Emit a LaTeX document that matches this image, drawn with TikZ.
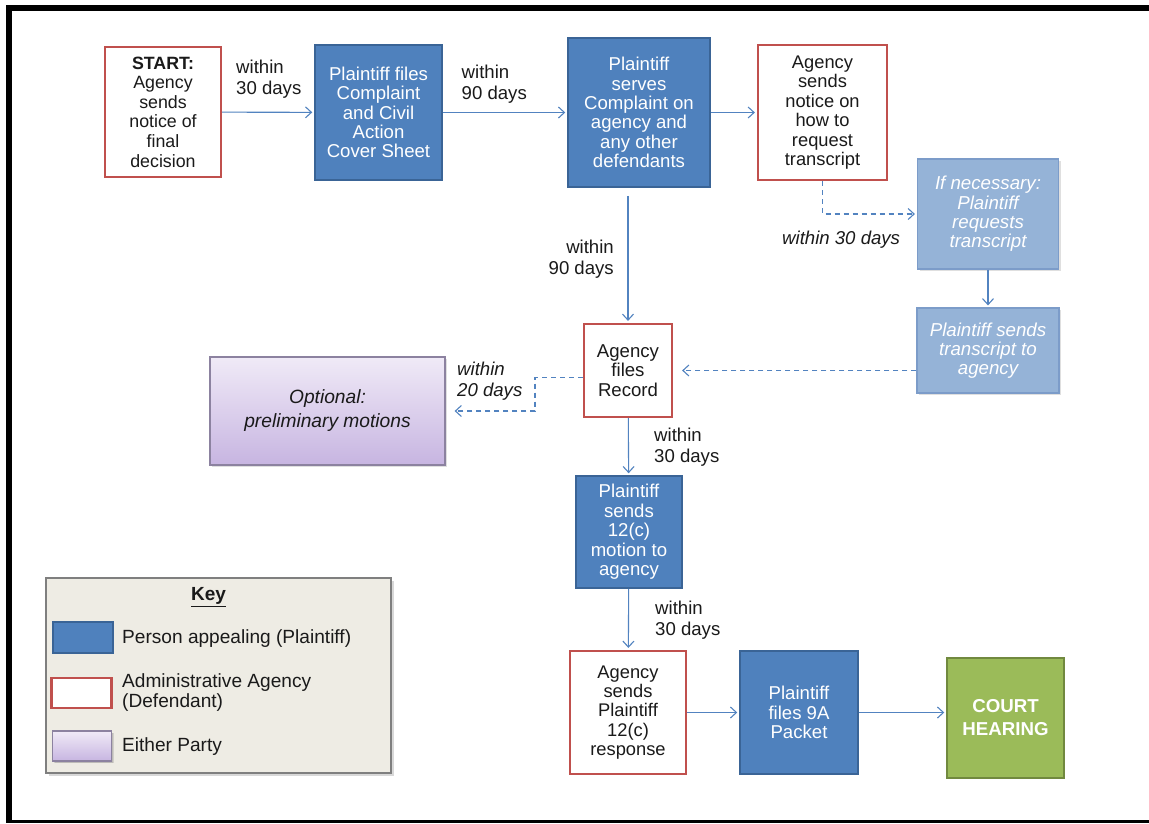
\documentclass[tikz,border=0pt]{standalone}
\usepackage{fontspec}
\setmainfont{Liberation Sans}
\usetikzlibrary{arrows.meta,shadows,calc}
\definecolor{pblue}{HTML}{4F81BD}
\definecolor{pblueD}{HTML}{3A6496}
\definecolor{ared}{HTML}{C0504D}
\definecolor{lblue}{HTML}{95B3D7}
\definecolor{lblueD}{HTML}{7C9CC9}
\definecolor{ptop}{HTML}{F0EAF7}
\definecolor{pbot}{HTML}{C7B5E1}
\definecolor{pbord}{HTML}{8C82A0}
\definecolor{gfill}{HTML}{9BBB59}
\definecolor{gbord}{HTML}{71893F}
\definecolor{keybg}{HTML}{EEECE4}
\definecolor{keybd}{HTML}{7F7F7F}
\definecolor{conncol}{HTML}{5283C0}
\definecolor{txt}{HTML}{1A1A1A}
\newcommand\fsz[2]{\fontsize{#1}{#2}\selectfont}
\begin{document}
\begin{tikzpicture}[x=1pt,y=-1pt,
  box/.style={rectangle, inner sep=0pt, align=center},
  plaintiff/.style={box, fill=pblue, draw=pblueD, line width=1.5pt, text=white, font=\fsz{18.6}{19.3}},
  agency/.style={box, fill=white, draw=ared, line width=2.2pt, text=txt, font=\fsz{18.3}{19.5}},
  lightbox/.style={box, fill=lblue, draw=lblueD, line width=1.2pt, text=white, font=\fsz{18.7}{19.3}\itshape,
    drop shadow={shadow xshift=2pt, shadow yshift=-2pt, opacity=0.25}},
  either/.style={box, top color=ptop, bottom color=pbot, draw=pbord, line width=1.2pt, text=txt,
    font=\fsz{19.2}{24}\itshape, drop shadow={shadow xshift=2pt, shadow yshift=-2pt, opacity=0.25}},
  hearing/.style={box, fill=gfill, draw=gbord, line width=1.5pt, text=white, font=\fsz{18.7}{23}\bfseries},
  keybox/.style={box, fill=keybg, draw=keybd, line width=2pt,
    drop shadow={shadow xshift=3pt, shadow yshift=-3pt, opacity=0.3}},
  conn/.style={draw=conncol, line width=1.1pt, -{Straight Barb[length=6pt,width=11pt]}, shorten >=2pt},
  dconn/.style={conn, dash pattern=on 5pt off 4pt},
  lbl/.style={inner sep=0pt, align=left, text=txt, font=\fsz{18.6}{21.5}},
  keytxt/.style={inner sep=0pt, align=left, text=txt, font=\fsz{19.1}{20}},
]
\useasboundingbox (0,0) rectangle (1149,823);
\fill[white] (0,0) rectangle (1149,823);
% frame bands
\fill[black] (6,5) rectangle (1149,11);
\fill[black] (6,5) rectangle (12,823);
\fill[black] (6,820) rectangle (1149,823);

% main boxes
\node[agency, minimum width=116pt, minimum height=130pt, font=\fsz{17.8}{19.6}] (start) at (163,112)
  {\textbf{START:}\\Agency\\sends\\notice of\\final\\decision};
\node[plaintiff, minimum width=127pt, minimum height=135pt] (pf) at (378.5,112.5)
  {Plaintiff files\\Complaint\\and Civil\\Action\\Cover Sheet};
\node[plaintiff, minimum width=142pt, minimum height=149pt] (ps) at (639,112.5)
  {Plaintiff\\serves\\Complaint on\\agency and\\any other\\defendants};
\node[agency, minimum width=129pt, minimum height=135pt] (ans) at (822.5,112.5)
  {Agency\\sends\\notice on\\how to\\request\\transcript};
\node[lightbox, minimum width=141pt, minimum height=110pt] (lb1) at (988,214)
  {If necessary:\\Plaintiff\\requests\\transcript};
\node[lightbox, minimum width=142pt, minimum height=85pt] (lb2) at (988,350.5)
  {Plaintiff sends\\transcript to\\agency};
\node[agency, minimum width=88pt, minimum height=93pt, font=\fsz{18.6}{19.2}] (rec) at (628,370.5)
  {Agency\\files\\Record};
\node[either, minimum width=235pt, minimum height=108pt] (pm) at (327.5,411)
  {Optional:\\preliminary motions};
\node[plaintiff, minimum width=106pt, minimum height=112pt, font=\fsz{18.6}{19.5}] (m12c) at (629,532)
  {Plaintiff\\sends\\12(c)\\motion to\\agency};
\node[agency, minimum width=116pt, minimum height=123pt, font=\fsz{18.3}{19.3}] (resp) at (628,712.5)
  {Agency\\sends\\Plaintiff\\12(c)\\response};
\node[plaintiff, minimum width=118pt, minimum height=123pt] (p9a) at (799,712.5)
  {Plaintiff\\files 9A\\Packet};
\node[hearing, minimum width=117pt, minimum height=120pt] (court) at (1005.5,718)
  {COURT\\HEARING};

% key
\node[keybox, minimum width=345pt, minimum height=195pt] (key) at (218.5,675.5) {};
\node[inner sep=0pt, text=txt, font=\fsz{19}{20}\bfseries] (keyt) at (208.5,597) {\underline{Key}};
\node[plaintiff, minimum width=60pt, minimum height=31pt] (sw1) at (83,637.5) {};
\node[keytxt, anchor=west] (kt1) at (122,639) {Person appealing (Plaintiff)};
\node[agency, line width=2.5pt, minimum width=60pt, minimum height=30pt] (sw2) at (81.7,693) {};
\node[keytxt, anchor=west] (kt2) at (122,693) {Administrative Agency\\(Defendant)};
\node[either, minimum width=59pt, minimum height=30pt, drop shadow={shadow xshift=1.5pt, shadow yshift=-1.5pt, opacity=0.25}] (sw3) at (82,746) {};
\node[keytxt, anchor=west] (kt3) at (122,747) {Either Party};

% labels
\node[lbl, anchor=west] (L1) at (236,79) {within\\30 days};
\node[lbl, anchor=west] (L2) at (461.5,84) {within\\90 days};
\node[lbl, anchor=west, font=\fsz{18.6}{21.5}\itshape] (L3) at (782,240) {within 30 days};
\node[lbl, anchor=east, align=right] (L4) at (614,259) {within\\90 days};
\node[lbl, anchor=west, font=\fsz{18.6}{21.5}\itshape] (L5) at (457,381) {within\\20 days};
\node[lbl, anchor=west, font=\fsz{18.6}{20.5}] (L6) at (654,447) {within\\30 days};
\node[lbl, anchor=west] (L7) at (655,620) {within\\30 days};

% connectors
\coordinate (bend) at (535,0);
\coordinate (r1) at ($(rec.west)+(0,7)$);
\draw[conn] (start) -- (pf);
\draw[conn] (pf) -- (ps);
\draw[conn] (ps) -- (ans);
\draw[dconn] (ans.south) |- (lb1.west);
\draw[conn] (lb1) -- (lb2);
\draw[dconn, shorten >=9pt] (lb2.west |- rec.east) -- (rec.east);
\draw[conn, shorten <=8pt] (rec.north |- ps.south) -- (rec.north);
\draw[dconn, shorten >=9pt] (r1) -- (r1 -| bend) |- (pm.east);
\draw[conn] (rec) -- (m12c);
\draw[conn] (m12c) -- (resp);
\draw[conn] (resp) -- (p9a);
\draw[conn] (p9a.east) -- (p9a.east -| court.west);
\end{tikzpicture}
\end{document}
